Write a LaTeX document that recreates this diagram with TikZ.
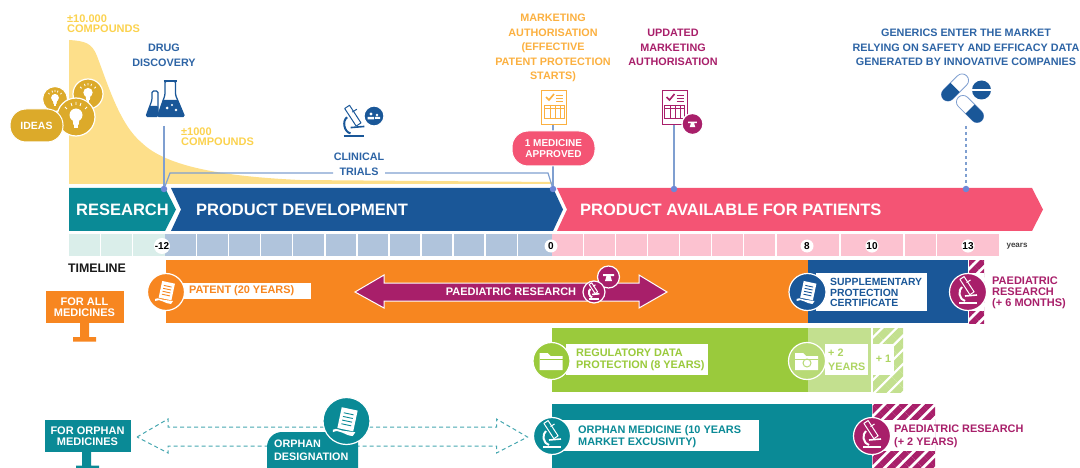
\documentclass[tikz,border=0pt]{standalone}
\usepackage{fontspec}
\setmainfont{Liberation Sans}
\usepackage{xcolor}
\usetikzlibrary{arrows,patterns.meta}
\definecolor{tealbar}{HTML}{0A8A96}
\definecolor{bluebar}{HTML}{1A5798}
\definecolor{bluetext}{HTML}{2D64A5}
\definecolor{pinkbar}{HTML}{F45474}
\definecolor{orangebar}{HTML}{F78620}
\definecolor{greenbar}{HTML}{9ACA3C}
\definecolor{greenpale}{HTML}{C3E08F}
\definecolor{plum}{HTML}{A81F6A}
\definecolor{yellowtext}{HTML}{FBD24E}
\definecolor{yellowfill}{HTML}{FDDF8A}
\definecolor{gold}{HTML}{DCAA2A}
\definecolor{orangetext}{HTML}{FBB040}
\definecolor{stemblue}{HTML}{7F9FD0}
\definecolor{cellteal}{HTML}{DAEEEA}
\definecolor{cellblue}{HTML}{B0C4DC}
\definecolor{cellpink}{HTML}{FCC2D0}
\tikzset{
lab/.style = {inner sep = 0pt, align = center, font = \fontsize{10.8}{14.6}\selectfont\bfseries},
tightlab/.style = {lab, align = left, anchor = west, font = \fontsize{11}{10}\selectfont\bfseries},
rowlab/.style = {lab, align = left, anchor = west, font = \fontsize{10.9}{12.6}\selectfont\bfseries},
barlab/.style = {inner sep = 0pt, anchor = west, text = white, font = \fontsize{16.5}{16.5}\selectfont\bfseries},
tick/.style = {circle, fill = white, inner sep = 0pt, minimum size = 13pt, font = \fontsize{10}{10}\selectfont\bfseries},
dot/.style = {circle, fill = stemblue!85!blue, inner sep = 0pt, minimum size = 6.5pt},
stem/.style = {draw = stemblue, line width = 1.2pt},
disc/.style = {circle, draw = white, line width = 1.2pt, inner sep = 0pt, minimum size = 37pt},
smalldisc/.style = {disc, minimum size = 22pt},
pill/.style = {rectangle, rounded corners = 15pt, draw = white, line width = 1pt, text = white, align = center, inner sep = 0pt, font = \fontsize{10.5}{12.5}\selectfont\bfseries},
sign/.style = {rectangle, text = white, align = center, inner sep = 0pt, font = \fontsize{11}{11.4}\selectfont\bfseries},
whitebox/.style = {fill = white},
pics/scopepic/.style = {code = {
\draw[#1, line width = 1pt, line join = round] (-3.9, -15.4) -- (6.1, -0.1) -- (1.9, 2.7) -- (-8.1, -12.6) -- cycle ;
\draw[#1, line width = 1pt] (-1.5, -9.5) -- (2.5, -12) ;
\draw[#1, line width = 2pt] (-6, -5) to [out = 215, in = 170] (-3, 9) ;
\draw[#1, line width = 1.6pt] (-3, 4) -- (9, 3) ;
\draw[#1, line width = 2.2pt] (-9, 11) -- (9, 11) ;
}},
pics/certpic/.style = {code = {
\fill[white, rotate = -12] (-6, -10) rectangle (7, 7) ;
\fill[white] (-11, 7) to [out = 30, in = 180] (-1, 8) -- (7, 9) -- (5, 12) to [out = 180, in = 30] (-11, 9) -- cycle ;
\foreach \liney in {-6, -3, 0, 3} {\draw[#1, line width = 0.9pt, rotate = -12] (-3.5, \liney) -- (4.5, \liney) ;}
}},
pics/folderpic/.style = {code = {
\fill[white] (-12, -8) -- (-4, -8) -- (-1, -5) -- (11, -5) -- (11, 9) -- (-12, 9) -- cycle ;
\draw[#1, line width = 0.8pt] (-12, -2) -- (11, -2) ;
}},
pics/phonepic/.style = {code = {
\fill[white] (-5.5, -3) -- (5.5, -3) -- (5.5, -1) -- (2, -1) -- (3.5, 4) -- (-3.5, 4) -- (-2, -1) -- (-5.5, -1) -- cycle ;
}},
pics/bulbpic/.style = {code = {
\fill[white] (0, -2) circle (6.5pt) ;
\fill[white] (-3.5, 1) -- (3.5, 1) -- (2.6, 8) -- (-2.6, 8) -- cycle ;
\fill[white] (-1.6, 8) rectangle (1.6, 11) ;
\draw[white, line width = 0.8pt] (-9, -8) -- (-11, -10) (-4, -11) -- (-5, -14) (0, -12) -- (0, -15) (4, -11) -- (5, -14) (9, -8) -- (11, -10) ;
}},
pics/formpic/.style = {code = {
\draw[#1, line width = 0.9pt, fill = white] (-12.5, -17) rectangle (12.5, 17) ;
\draw[#1, line width = 1.6pt] (-8, -10) -- (-5, -7) -- (0, -13) ;
\foreach \liney in {-12, -9, -6} {\draw[#1, line width = 0.6pt] (2, \liney) -- (9, \liney) ;}
\draw[#1, line width = 0.6pt] (-10, -2) rectangle (10, 11) ;
\draw[#1, line width = 0.6pt] (-10, 1) -- (10, 1) ;
\foreach \linex in {-4, 1, 6} {\draw[#1, line width = 0.6pt] (\linex, -2) -- (\linex, 11) ;}
}},
pics/capsulepic/.style = {code = {
\draw[stemblue, line width = 0.8pt, fill = white, rounded corners = 6.5pt] (-16.5, -6.5) rectangle (16.5, 6.5) ;
\begin{scope}
\clip (-18, -8) rectangle (0, 8) ;
\fill[bluebar, rounded corners = 6.5pt] (-16.5, -6.5) rectangle (16.5, 6.5) ;
\end{scope}
}}
}
\begin{document}
\begin{tikzpicture}[x = 1pt, y = -1pt]
\useasboundingbox (0, 0) rectangle (1080, 468) ;
\fill[yellowfill] (69, 40) .. controls (85, 41) and (92, 43) .. (97, 56) .. controls (108, 85) and (120, 125) .. (142, 143) .. controls (165, 165) and (215, 176) .. (300, 180) -- (553, 182) -- (553, 184) -- (69, 184) -- cycle ;
\foreach \cellx/\cellw in {69/30.5, 101/30.5, 133/32} {\fill[cellteal] (\cellx, 234) rectangle +(\cellw, 22) ;}
\foreach \cellx/\cellw in {165/30.5, 197/30.5, 229/30.5, 261/30.5, 293.4/30.5, 325.5/30.5, 357.6/30.5, 389.7/30.5, 421.8/30.5, 453.9/30.5, 486/30.5, 518.1/33.9} {\fill[cellblue] (\cellx, 234) rectangle +(\cellw, 22) ;}
\foreach \cellx/\cellw in {552/30.5, 584/30.5, 616/30.5, 648/30.5, 680/30.5, 712/30.5, 744/30.5, 777/62, 841/62, 905/30.5, 937/62} {\fill[cellpink] (\cellx, 234) rectangle +(\cellw, 22) ;}
\fill[tealbar] (69, 188) -- (165, 188) -- (176, 209.5) -- (165, 231) -- (69, 231) -- cycle ;
\fill[bluebar] (171, 188) -- (553, 188) -- (563, 209.5) -- (553, 231) -- (171, 231) -- (181, 209.5) -- cycle ;
\fill[pinkbar] (557, 188) -- (1032, 188) -- (1043, 209.5) -- (1032, 231) -- (557, 231) -- (567, 209.5) -- cycle ;
\node(research) at (76, 209.5) [barlab] {RESEARCH} ;
\node(development) at (196, 209.5) [barlab] {PRODUCT DEVELOPMENT} ;
\node(available) at (580, 209.5) [barlab] {PRODUCT AVAILABLE FOR PATIENTS} ;
\node(tickstart) at (162, 246) [tick] {-12} ;
\node(tickzero) at (551, 246) [tick] {0} ;
\node(tickeight) at (807, 246) [tick] {8} ;
\node(tickten) at (872, 246) [tick] {10} ;
\node(tickthirteen) at (968, 246) [tick] {13} ;
\node(years) at (1017, 246) [inner sep = 0pt, text = black!75, font = \fontsize{8}{8}\selectfont\bfseries] {years} ;
\node(tenthousand) at (67, 24) [tightlab, text = yellowtext] {±10.000\\COMPOUNDS} ;
\node(thousand) at (181, 137) [tightlab, text = yellowtext] {±1000\\COMPOUNDS} ;
\node(drug) at (164, 55) [lab, text = bluetext] {DRUG\\DISCOVERY} ;
\node(clinical) at (359, 164) [lab, text = bluetext] {CLINICAL\\TRIALS} ;
\node(marketing) at (553, 48) [lab, text = orangetext] {MARKETING\\AUTHORISATION\\(EFFECTIVE\\PATENT PROTECTION\\STARTS)} ;
\node(updated) at (673, 47.5) [lab, text = plum] {UPDATED\\MARKETING\\AUTHORISATION} ;
\node(generics) at (966, 47.5) [lab, text = bluetext] {GENERICS ENTER THE MARKET\\RELYING ON SAFETY AND EFFICACY DATA\\GENERATED BY INNOVATIVE COMPANIES} ;
\node(dotdrug) at (164, 189) [dot] {} ;
\node(dotzero) at (553, 189) [dot] {} ;
\node(dotupdated) at (674, 189) [dot] {} ;
\node(dotgenerics) at (966, 189) [dot] {} ;
\coordinate(flasklow) at (164, 126) ;
\coordinate(formlow) at (553, 125) ;
\coordinate(updatedlow) at (674, 125) ;
\coordinate(capsulelow) at (966, 126) ;
\coordinate(clinicalleft) at (333, 173) ;
\coordinate(clinicalright) at (385, 173) ;
\draw[stem] (flasklow) -- (dotdrug) ;
\draw[stem] (formlow) -- (dotzero) ;
\draw[stem] (updatedlow) -- (dotupdated) ;
\draw[stem, dashed] (capsulelow) -- (dotgenerics) ;
\draw[stem] (dotdrug) -- (170, 173) -- (clinicalleft) ;
\draw[stem] (clinicalright) -- (548, 173) -- (dotzero) ;
\draw[bluebar, line width = 1.2pt, fill = white, rounded corners = 1.5pt] (146, 116.5) -- (152, 100) -- (152, 91) -- (158, 91) -- (158, 116.5) -- cycle ;
\fill[bluebar, rounded corners = 1pt] (146, 116.5) -- (149.5, 106) -- (158, 106) -- (158, 116.5) -- cycle ;
\draw[bluebar, line width = 1.3pt, fill = white, rounded corners = 1.5pt] (157.5, 116.5) -- (165, 95) -- (165, 81) -- (175.5, 81) -- (175.5, 95) -- (184.5, 116.5) -- cycle ;
\draw[bluebar, line width = 1.6pt] (163.5, 81) -- (177, 81) ;
\fill[bluebar, rounded corners = 1pt] (157.5, 116.5) -- (163, 100) -- (178, 100) -- (184.5, 116.5) -- cycle ;
\fill[white] (167, 108) circle (1.5pt) (172, 105) circle (1.2pt) (176, 110) circle (1.3pt) (172, 88) circle (1pt) (169, 93) circle (1pt) ;
\pic at (354, 123) [scale = 1.15] {scopepic = bluebar} ;
\node(clinicalbadge) at (374, 116) [smalldisc, fill = bluebar, minimum size = 20pt] {} ;
\fill[white] (371, 114) circle (1.6pt) (377, 115) circle (1.4pt) (367.5, 119.5) rectangle (374, 117) (375, 119) rectangle (380, 117) ;
\pic at (554, 107) {formpic = orangetext} ;
\pic at (674.5, 107) {formpic = plum} ;
\node(approved) at (553.5, 148.5) [pill, fill = pinkbar, minimum width = 83pt, minimum height = 35pt, rounded corners = 16pt, font = \fontsize{10}{10.5}\selectfont\bfseries] {1 MEDICINE\\APPROVED} ;
\node(updatedbadge) at (692.5, 124) [smalldisc, fill = plum, minimum size = 21pt] {} ;
\pic at (692.5, 124) [scale = 0.8] {phonepic} ;
\pic at (955, 87.5) [rotate = 45] {capsulepic} ;
\pic at (970, 109) [rotate = 135] {capsulepic} ;
\node(tablet) at (981.5, 90) [circle, fill = bluebar, inner sep = 0pt, minimum size = 19pt] {} ;
\fill[white] (972, 89.2) rectangle (991, 90.8) ;
\node(bulbone) at (55, 99) [smalldisc, fill = gold, minimum size = 25pt] {} ;
\pic at (55, 99) [scale = 0.6] {bulbpic} ;
\node(bulbtwo) at (88, 94) [smalldisc, fill = gold, minimum size = 30pt] {} ;
\pic at (88, 94) [scale = 0.72] {bulbpic} ;
\node(bulbthree) at (76, 117) [disc, fill = gold, minimum size = 38pt] {} ;
\pic at (76, 117) {bulbpic} ;
\node(ideas) at (36.5, 125.5) [pill, fill = gold, minimum width = 53pt, minimum height = 33pt, rounded corners = 16pt] {IDEAS} ;
\node(timeline) at (97, 268) [inner sep = 0pt, text = black!90, font = \fontsize{12.4}{12.4}\selectfont\bfseries] {TIMELINE} ;
\fill[orangebar] (80, 320) rectangle (89, 338) (73, 337) rectangle (96, 341.5) ;
\node(allsign) at (84.5, 307) [sign, fill = orangebar, minimum width = 78pt, minimum height = 32pt] {FOR ALL\\MEDICINES} ;
\fill[tealbar] (82, 450) rectangle (91, 466) (76, 465.5) rectangle (99, 468) ;
\node(orphansign) at (87.5, 436) [sign, fill = tealbar, minimum width = 86pt, minimum height = 32pt] {FOR ORPHAN\\MEDICINES} ;
\fill[orangebar] (166, 260) rectangle (808, 323) ;
\fill[bluebar] (808, 260) rectangle (968, 323) ;
\fill[pattern = {Lines[angle = 45, distance = 9pt, line width = 6pt]}, pattern color = plum] (969, 260) rectangle (984, 323) ;
\fill[whitebox] (969, 273) rectangle (984, 311) ;
\fill[greenbar] (552, 328) rectangle (808, 392) ;
\fill[greenpale] (808, 328) rectangle (871, 392) ;
\fill[pattern = {Lines[angle = 45, distance = 10pt, line width = 7.5pt]}, pattern color = greenpale] (873, 328) rectangle (903, 392) ;
\fill[tealbar] (552, 404) rectangle (872, 468) ;
\fill[pattern = {Lines[angle = 45, distance = 9pt, line width = 6pt]}, pattern color = plum] (872.5, 404) rectangle (935, 468) ;
\fill[whitebox] (872.5, 420) rectangle (935, 451) ;
\fill[whitebox] (183, 283) rectangle (311, 299) ;
\fill[whitebox] (816, 273) rectangle (927, 311) ;
\fill[whitebox] (566, 344) rectangle (707.5, 375) ;
\fill[whitebox] (825, 344) rectangle (868, 375) ;
\fill[whitebox] (873, 344) rectangle (894, 375) ;
\fill[whitebox] (560, 420) rectangle (759, 451) ;
\node(patentlab) at (189, 291) [rowlab, text = orangebar] {PATENT (20 YEARS)} ;
\node(spclab) at (830, 292.5) [rowlab, text = bluebar, font = \fontsize{10.4}{10.9}\selectfont\bfseries] {SUPPLEMENTARY\\PROTECTION\\CERTIFICATE} ;
\node(sixmonths) at (992, 292.5) [rowlab, text = plum, font = \fontsize{11}{10.9}\selectfont\bfseries] {PAEDIATRIC\\RESEARCH\\(+ 6 MONTHS)} ;
\node(datalab) at (576, 360) [rowlab, text = greenbar] {REGULATORY DATA\\PROTECTION (8 YEARS)} ;
\node(twoyears) at (828, 360) [rowlab, text = greenbar!80, font = \fontsize{10.8}{13.5}\selectfont\bfseries] {+ 2\\YEARS} ;
\node(plusone) at (883.5, 359) [lab, text = greenbar!80] {+ 1} ;
\node(orphanlab) at (578, 436.5) [rowlab, text = tealbar] {ORPHAN MEDICINE (10 YEARS\\MARKET EXCUSIVITY)} ;
\node(twolab) at (894, 436.5) [rowlab, text = plum] {PAEDIATRIC RESEARCH\\(+ 2 YEARS)} ;
\node(patentdisc) at (166, 292) [disc, fill = orangebar] {} ;
\pic at (166, 292) {certpic = orangebar} ;
\node(spcdisc) at (807.5, 292) [disc, fill = bluebar] {} ;
\pic at (807.5, 292) {certpic = bluebar} ;
\node(sixdisc) at (968, 292) [disc, fill = plum] {} ;
\pic at (968, 292) {scopepic = white} ;
\node(datadisc) at (551.5, 361) [disc, fill = greenbar] {} ;
\pic at (551.5, 361) {folderpic = greenbar} ;
\node(twodisc) at (807, 361) [disc, fill = greenbar!70] {} ;
\pic at (807, 361) {folderpic = greenbar!70} ;
\draw[greenbar!70, line width = 1pt] (807, 363) circle (4pt) ;
\node(orphandisc) at (552, 436) [disc, fill = tealbar] {} ;
\pic at (552, 436) {scopepic = white} ;
\node(twodisctwo) at (872, 436) [disc, fill = plum] {} ;
\pic at (872, 436) {scopepic = white} ;
\draw[white, line width = 1pt, fill = plum] (355, 292) -- (384, 275) -- (384, 283) -- (639, 283) -- (639, 275) -- (667, 292) -- (639, 308) -- (639, 301) -- (384, 301) -- (384, 308) -- cycle ;
\node(paedlab) at (511, 291.5) [lab, text = white, font = \fontsize{11}{11}\selectfont\bfseries] {PAEDIATRIC RESEARCH} ;
\node(phonedisc) at (608.5, 277) [smalldisc, fill = plum] {} ;
\pic at (608.5, 277) {phonepic} ;
\node(scopedisc) at (594, 292) [smalldisc, fill = plum] {} ;
\pic at (594, 292) [scale = 0.6] {scopepic = white} ;
\draw[tealbar!75, line width = 1pt, dash pattern = on 4pt off 3pt] (137, 437) -- (168, 419) -- (168, 427) -- (496.5, 427) -- (496.5, 419) -- (527.5, 437) -- (496.5, 453) -- (496.5, 446) -- (168, 446) -- (168, 453) -- cycle ;
\fill[tealbar] (267, 468) -- (267, 447) .. controls (267, 438.7) and (273.7, 432) .. (282, 432) -- (358, 432) -- (358, 468) -- cycle ;
\node(orphandesig) at (274, 450.5) [rowlab, text = white, font = \fontsize{10.8}{13.2}\selectfont\bfseries] {ORPHAN\\DESIGNATION} ;
\node(desigdisc) at (346.5, 421) [disc, fill = tealbar, minimum size = 47pt] {} ;
\pic at (346.5, 421) [scale = 1.25] {certpic = tealbar} ;
\end{tikzpicture}
\end{document}
